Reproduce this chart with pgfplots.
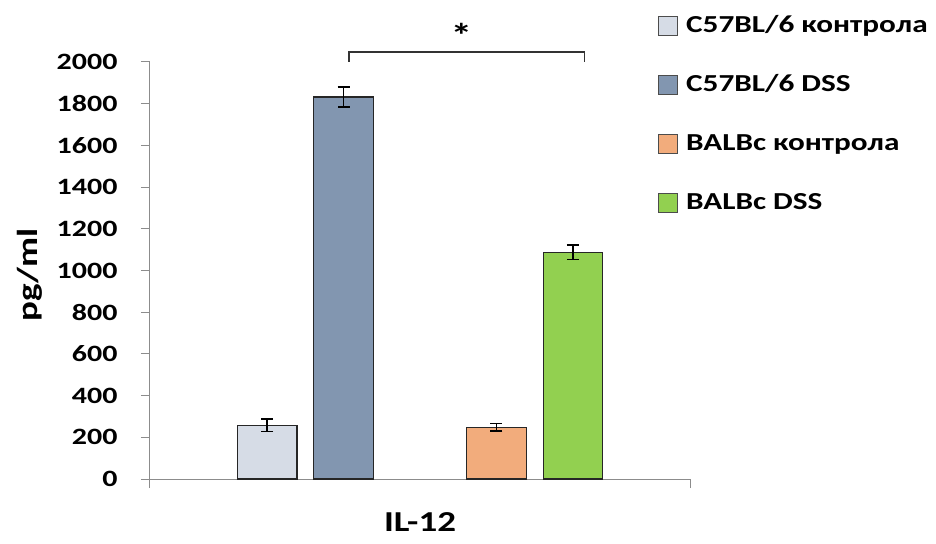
\documentclass[border=0pt]{standalone}
\usepackage{fontspec}
\setmainfont{Carlito}[FakeStretch=1.28]
\usepackage{pgfplots}
\pgfplotsset{compat=1.18}
\definecolor{c1}{HTML}{D6DCE6}
\definecolor{c2}{HTML}{8296B0}
\definecolor{c3}{HTML}{F2AC7C}
\definecolor{c4}{HTML}{92D050}
\definecolor{axgray}{HTML}{8C8C8C}
\newcommand{\tf}{\fontsize{23.5}{28}\selectfont\bfseries}
\newcommand{\legf}{\fontsize{24.5}{28}\selectfont\bfseries}
\newcommand{\lf}{\fontsize{29}{34}\selectfont\bfseries}
\begin{document}
\begin{tikzpicture}
\begin{axis}[
  width=540bp, height=417bp, scale only axis,
  at={(0,0)}, anchor=south west,
  xmin=-0.53, xmax=6.53, ymin=0, ymax=2000,
  axis lines*=left,
  axis line style={axgray, line width=1bp},
  xtick={-0.53,6.53}, xticklabels={},
  ytick={0,200,...,2000},
  tick align=outside,
  major tick length=9bp,
  tick style={axgray, line width=1bp},
  /pgf/number format/assume math mode=true,
  /pgf/number format/1000 sep={},
  yticklabel style={font=\tf, anchor=east, xshift=-20bp},
  ylabel={pg/ml},
  ylabel style={font=\lf, at={(axis description cs:-0.222,0.489)}, anchor=center},
  xlabel={IL-12},
  xlabel style={font=\lf, at={(axis description cs:0.5,-0.103)}, anchor=center},
  clip=false,
  legend style={draw=none, fill=none, font=\legf, at={(rel axis cs:0.941,1.113)}, anchor=north west,
    legend cell align=left, row sep=37bp, column sep=8bp, inner sep=0pt,
    nodes={inner sep=0pt, text height=17bp, text depth=5bp}},
  legend image code/.code={\draw[#1, draw=black!70, line width=0.8bp] (0bp,-9bp) rectangle (19bp,10bp);},
  every axis plot/.append style={ybar, bar width=0.78, bar shift=0pt, draw=black!85, line width=1.3bp,
    error bars/y dir=both, error bars/y explicit,
    error bars/error bar style={black, line width=1.3bp},
    error bars/error mark options={rotate=90, mark size=6bp, black, line width=1.3bp}},
]
\addplot[fill=c1] coordinates {(1,258) +- (0,30)};
\addlegendentry{C57BL/6 контрола}
\addplot[fill=c2] coordinates {(2,1832) +- (0,48)};
\addlegendentry{C57BL/6 DSS}
\addplot[fill=c3] coordinates {(4,248) +- (0,18)};
\addlegendentry{BALBc контрола}
\addplot[fill=c4] coordinates {(5,1087) +- (0,35)};
\addlegendentry{BALBc DSS}
\draw[line width=1.3bp, black!80] (axis cs:2.07,2000) -- (axis cs:2.07,2048) -- (axis cs:5.15,2048) -- (axis cs:5.15,2000);
\node[font=\fontsize{34}{34}\selectfont\bfseries] at (axis cs:3.54,2130) {*};
\end{axis}
\path[use as bounding box] (-150bp,-65bp) rectangle (786bp,479bp);
\end{tikzpicture}
\end{document}
